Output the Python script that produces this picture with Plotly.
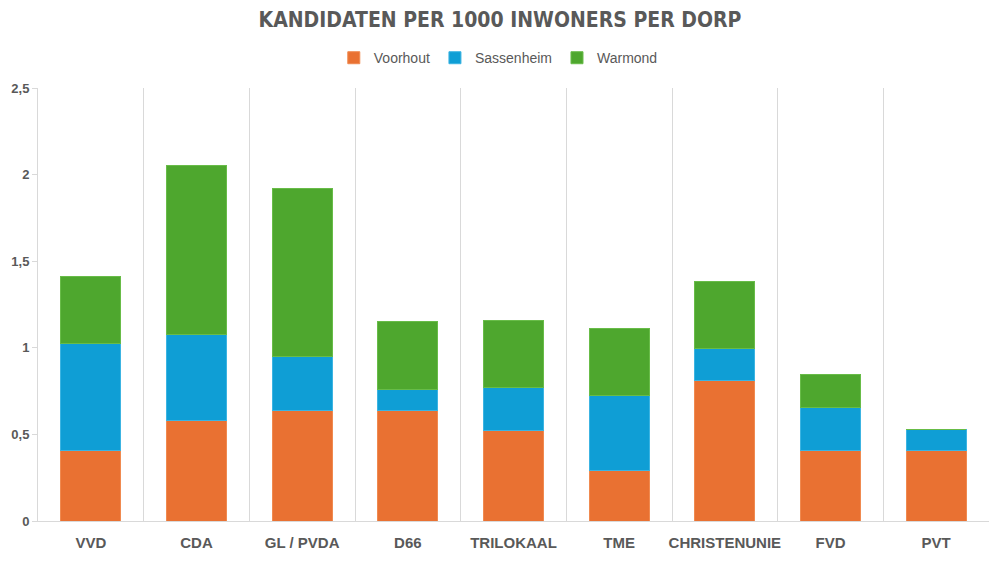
import plotly.graph_objects as go

categories = ["VVD", "CDA", "GL / PVDA", "D66", "TRILOKAAL", "TME", "CHRISTENUNIE", "FVD", "PVT"]
voorhout = [0.405, 0.578, 0.636, 0.636, 0.520, 0.289, 0.809, 0.405, 0.405]
sassenheim = [0.621, 0.497, 0.311, 0.124, 0.248, 0.435, 0.186, 0.248, 0.124]
warmond = [0.388, 0.975, 0.975, 0.390, 0.392, 0.390, 0.388, 0.195, 0.0]

series = [
    ("Voorhout", voorhout, "#E97132", "#F08A50"),
    ("Sassenheim", sassenheim, "#0F9ED5", "#3CB4E2"),
    ("Warmond", warmond, "#4EA72E", "#68BC48"),
]

fig = go.Figure()
for name, vals, col, edge in series:
    fig.add_trace(go.Bar(
        name=name, x=categories, y=vals,
        marker=dict(color=col, line=dict(color=edge, width=1)),
    ))

fig.update_layout(
    barmode="stack",
    bargap=0.43,
    width=1000, height=563,
    paper_bgcolor="white", plot_bgcolor="white",
    separators=",.",
    margin=dict(l=30, r=19, t=80, b=50),
    title=dict(
        text="KANDIDATEN PER 1000 INWONERS PER DORP",
        x=0.492, xanchor="center", y=0.979, yanchor="middle",
        font=dict(family="DejaVu Sans Condensed", size=21, color="#595959", weight="bold"),
    ),
    legend=dict(
        orientation="h", x=0.484, xanchor="center", y=1.069, yanchor="middle",
        font=dict(family="Liberation Sans, Arial", size=14, color="#595959"),
        traceorder="normal", itemwidth=30,
    ),
    xaxis=dict(
        type="category",
        tickson="boundaries",
        showgrid=True, gridcolor="#D9D9D9", gridwidth=1,
        showline=True, linecolor="#D9D9D9", linewidth=1,
        ticks="", ticklen=0, tickangle=0, automargin=False,
        ticklabelstandoff=8,
        tickfont=dict(family="Liberation Sans, Arial", size=15, color="#595959", weight="bold"),
        range=[-0.5, 8.5],
    ),
    yaxis=dict(
        range=[0, 2.5], dtick=0.5, automargin=False,
        showgrid=False, zeroline=False,
        showline=True, linecolor="#D9D9D9", linewidth=1,
        ticks="outside", ticklen=5, tickcolor="#D9D9D9",
        tickfont=dict(family="Liberation Sans, Arial", size=13, color="#595959", weight="bold"),
    ),
)

fig.write_html("out.html")
